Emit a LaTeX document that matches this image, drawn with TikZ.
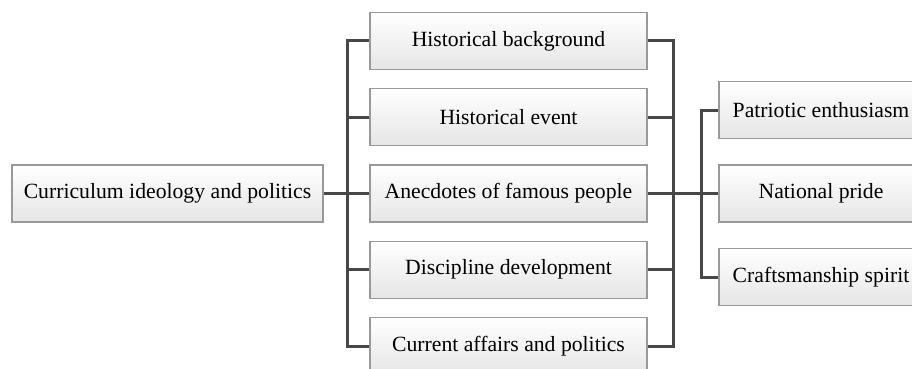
\documentclass[tikz,border=0pt]{standalone}
\usepackage{fontspec}
\setmainfont{Liberation Serif}
\begin{document}
\begin{tikzpicture}[x=1pt,y=-1pt,
    tree/.style={draw=black!72,line width=3pt},
    box/.style={draw=gray!80,line width=1.1pt,top color=white,bottom color=gray!20,
      minimum height=57pt,inner sep=0pt,font=\fontsize{21.7}{26}\selectfont}]

      \useasboundingbox (0,0) rectangle (912,369);

      \begin{scope}[every node/.style={box}]
        \node[minimum width=311pt] (root) at (167.5,193.5) {Curriculum ideology and politics};

        \node[minimum width=277pt] (1) at (508.5,41)     {Historical background};
        \node[minimum width=277pt] (2) at (508.5,117.25) {Historical event};
        \node[minimum width=277pt] (3) at (508.5,193.5)  {Anecdotes of famous people};
        \node[minimum width=277pt] (4) at (508.5,269.75) {Discipline development};
        \node[minimum width=277pt] (5) at (508.5,346)    {Current affairs and politics};

        \node[minimum width=204pt] (6) at (821,110)   {Patriotic enthusiasm};
        \node[minimum width=204pt] (7) at (821,193.5) {National pride};
        \node[minimum width=204pt] (8) at (821,277)   {Craftsmanship spirit};
      \end{scope}

      \coordinate (lbus) at (347,193.5);
      \coordinate (rbus) at (673,193.5);
      \coordinate (sbus) at (701.5,193.5);

      \begin{scope}[every path/.style={tree}]
        \draw (root.east) -- (3.west);
        \draw (1.west) -| (lbus) |- (5.west);
        \draw (2.west) -| (lbus) |- (4.west);
        \draw (1.east) -| (rbus) |- (5.east);
        \draw (2.east) -| (rbus) |- (4.east);
        \draw (3.east) -- (7.west);
        \draw (6.west) -| (sbus) |- (8.west);
      \end{scope}

\end{tikzpicture}
\end{document}
